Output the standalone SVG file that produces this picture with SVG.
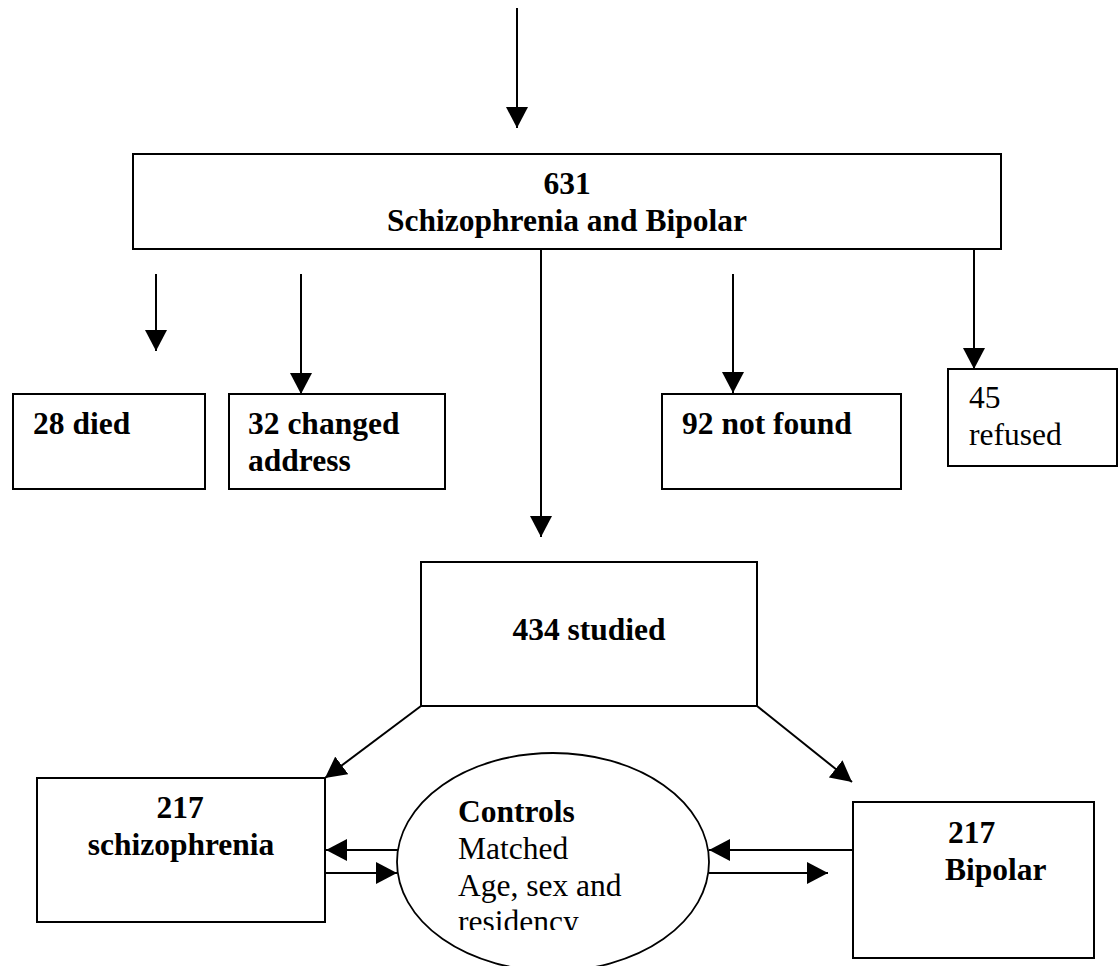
<svg xmlns="http://www.w3.org/2000/svg" width="1119" height="966" viewBox="0 0 1119 966">
<style>
.box{fill:#fff;stroke:#000;stroke-width:2}
.ell{fill:#fff;stroke:#000;stroke-width:1.8}
.ln{fill:none;stroke:#000;stroke-width:2;marker-end:url(#ah)}
.t{font-family:"Liberation Serif","Times New Roman",serif;font-size:31.5px;fill:#000}
.b{font-weight:bold}
.m{text-anchor:middle}
</style>
<defs>
<marker id="ah" markerUnits="userSpaceOnUse" markerWidth="22" markerHeight="22" refX="21" refY="11" orient="auto">
<path d="M0,0 L21,11 L0,22 z" fill="#000"/>
</marker>
<clipPath id="clipc"><rect x="380" y="740" width="400" height="190"/></clipPath>
</defs>
<g id="connectors">
<line class="ln" x1="517" y1="8" x2="517" y2="128"/>
<line class="ln" x1="156" y1="274" x2="156" y2="351"/>
<line class="ln" x1="301" y1="274" x2="301" y2="394"/>
<line class="ln" x1="541" y1="249" x2="541" y2="537"/>
<line class="ln" x1="733" y1="274" x2="733" y2="393"/>
<line class="ln" x1="974" y1="249" x2="974" y2="369"/>
<line class="ln" x1="421" y1="706" x2="325" y2="778"/>
<line class="ln" x1="757" y1="706" x2="852" y2="782"/>
<line class="ln" x1="398" y1="850" x2="326" y2="850"/>
<line class="ln" x1="325" y1="873" x2="397" y2="873"/>
<line class="ln" x1="853" y1="850" x2="709" y2="850"/>
<line class="ln" x1="709" y1="873" x2="828" y2="873"/>
</g>
<g id="n631">
<rect class="box" x="133" y="154" width="868" height="95"/>
<text class="t b m" x="567" y="194">631</text>
<text class="t b m" x="567" y="231">Schizophrenia and Bipolar</text>
</g>
<g id="died">
<rect class="box" x="13" y="394" width="192" height="95"/>
<text class="t b" x="33" y="434">28 died</text>
</g>
<g id="changed">
<rect class="box" x="229" y="394" width="216" height="95"/>
<text class="t b" x="248" y="434">32 changed</text>
<text class="t b" x="248" y="471">address</text>
</g>
<g id="notfound">
<rect class="box" x="662" y="394" width="239" height="95"/>
<text class="t b" x="682" y="434">92 not found</text>
</g>
<g id="refused">
<rect class="box" x="948" y="369" width="169" height="97"/>
<text class="t" x="969" y="408">45</text>
<text class="t" x="969" y="445">refused</text>
</g>
<g id="studied">
<rect class="box" x="421" y="562" width="336" height="144"/>
<text class="t b m" x="589" y="640">434 studied</text>
</g>
<g id="schizo">
<rect class="box" x="37" y="778" width="288" height="144"/>
<text class="t b m" x="180" y="818">217</text>
<text class="t b m" x="181" y="855">schizophrenia</text>
</g>
<g id="bipolar">
<rect class="box" x="853" y="802" width="241" height="156"/>
<text class="t b" x="948" y="843">217</text>
<text class="t b" x="945" y="880">Bipolar</text>
</g>
<g id="controls">
<ellipse class="ell" cx="553" cy="862" rx="156" ry="109"/>
<g clip-path="url(#clipc)">
<text class="t b" x="458" y="822">Controls</text>
<text class="t" x="458" y="859">Matched</text>
<text class="t" x="458" y="896">Age, sex and</text>
<text class="t" x="458" y="932">residency</text>
</g>
</g>
</svg>
